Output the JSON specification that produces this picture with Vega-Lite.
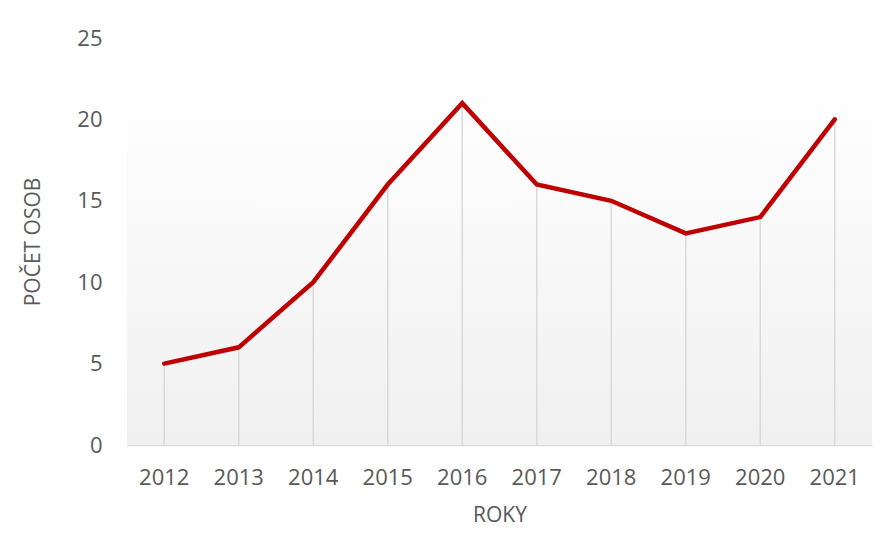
{
  "$schema": "https://vega.github.io/schema/vega-lite/v6.json",
  "width": 745,
  "height": 407,
  "autosize": {"type": "none"},
  "padding": {"left": 127, "top": 38, "right": 21, "bottom": 108},
  "background": "white",
  "config": {
    "view": {"stroke": null},
    "font": "Open Sans",
    "axis": {"labelFont": "Open Sans", "titleFont": "Open Sans", "labelColor": "#595959", "titleColor": "#595959", "titleFontWeight": "normal"}
  },
  "datasets": {
    "main": [
      {"rok": "2012", "pocet": 5},
      {"rok": "2013", "pocet": 6},
      {"rok": "2014", "pocet": 10},
      {"rok": "2015", "pocet": 16},
      {"rok": "2016", "pocet": 21},
      {"rok": "2017", "pocet": 16},
      {"rok": "2018", "pocet": 15},
      {"rok": "2019", "pocet": 13},
      {"rok": "2020", "pocet": 14},
      {"rok": "2021", "pocet": 20}
    ]
  },
  "layer": [
    {
      "data": {"values": [{"a": 1}]},
      "mark": {
        "type": "rect",
        "color": {
          "gradient": "linear",
          "x1": 0, "y1": 0, "x2": 0, "y2": 1,
          "stops": [
            {"offset": 0, "color": "#ffffff"},
            {"offset": 0.12, "color": "#ffffff"},
            {"offset": 1, "color": "#f0f0f0"}
          ]
        }
      },
      "encoding": {
        "y": {"datum": 0, "type": "quantitative", "scale": {"domain": [0, 25], "nice": false}},
        "y2": {"datum": 25}
      }
    },
    {
      "data": {"name": "main"},
      "mark": {"type": "rule", "color": "#d9d9d9", "strokeWidth": 1.5},
      "encoding": {
        "x": {"field": "rok", "type": "ordinal"},
        "y": {"field": "pocet", "type": "quantitative"},
        "y2": {"datum": 0}
      }
    },
    {
      "data": {"name": "main"},
      "mark": {"type": "line", "color": "#c00000", "strokeWidth": 4.5, "strokeJoin": "miter", "strokeCap": "round"},
      "encoding": {
        "x": {
          "field": "rok", "type": "ordinal",
          "scale": {"type": "band", "paddingInner": 0, "paddingOuter": 0},
          "axis": {
            "title": "ROKY", "labelAngle": 0, "labelAlign": "center", "labelFontSize": 22, "titleFontSize": 21,
            "domainColor": "#d9d9d9", "domainWidth": 1.5, "ticks": false,
            "labelPadding": 32, "titlePadding": 16, "grid": false
          }
        },
        "y": {
          "field": "pocet", "type": "quantitative",
          "scale": {"domain": [0, 25], "nice": false},
          "axis": {
            "title": "POČET OSOB", "values": [0, 5, 10, 15, 20, 25], "labelFontSize": 22, "titleFontSize": 21,
            "domain": false, "ticks": false, "grid": false, "labelPadding": 25, "titlePadding": 33
          }
        }
      }
    }
  ]
}
